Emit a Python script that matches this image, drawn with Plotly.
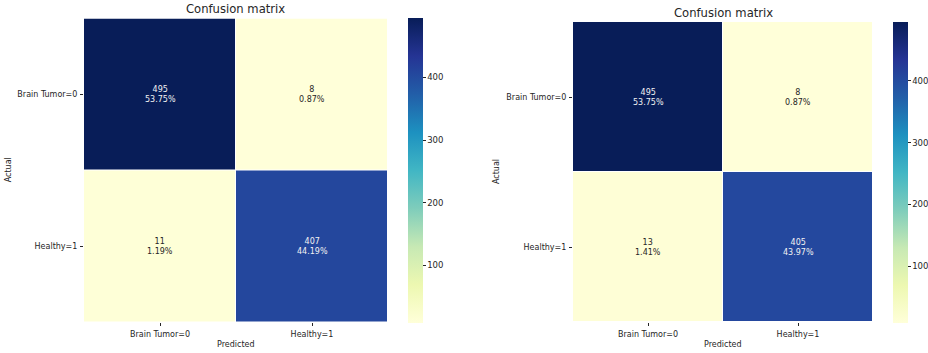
import plotly.graph_objects as go

# Confusion matrices for two classifiers (rows = actual, cols = predicted)
class_labels = ["Brain Tumor=0", "Healthy=1"]
cm_left = [[495, 8], [11, 407]]
cm_right = [[495, 8], [13, 405]]
cbar_ticks = [100, 200, 300, 400]

# matplotlib YlGnBu
ylgnbu = ["#ffffd9", "#edf8b1", "#c7e9b4", "#7fcdbb", "#41b6c4",
          "#1d91c0", "#225ea8", "#253494", "#081d58"]
colorscale = [[i / (len(ylgnbu) - 1), c] for i, c in enumerate(ylgnbu)]

W, H = 928, 353
FONT = "DejaVu Sans"
TXT = "#262626"


def px_x(v):
    return v / W


def px_y(v):
    return 1 - v / H


panels = [
    # matrix, plot left/right/top/bottom px, colorbar left px, cbar top/bottom px, title y px
    dict(cm=cm_left, x0=84, x1=388, y0=18.5, y1=322, cbx=408, cby0=18, cby1=323, ty=9.5),
    dict(cm=cm_right, x0=573, x1=873, y0=22, y1=322, cbx=893, cby0=22, cby1=323, ty=13),
]

fig = go.Figure()
annotations = []
layout_axes = {}

for i, p in enumerate(panels, start=1):
    cm = p["cm"]
    total = sum(sum(r) for r in cm)
    zmin = min(min(r) for r in cm)
    zmax = max(max(r) for r in cm)
    xa = "x" if i == 1 else f"x{i}"
    ya = "y" if i == 1 else f"y{i}"
    fig.add_trace(go.Heatmap(
        z=cm, x=[0, 1], y=[0, 1],
        colorscale=colorscale, zmin=zmin, zmax=zmax,
        xgap=1, ygap=1,
        xaxis=xa, yaxis=ya,
        hoverinfo="skip",
        colorbar=dict(
            x=px_x(p["cbx"]), xanchor="left", xref="container",
            y=px_y((p["cby0"] + p["cby1"]) / 2), yanchor="middle", yref="container",
            len=(p["cby1"] - p["cby0"]) / H, lenmode="fraction",
            thickness=15, thicknessmode="pixels",
            outlinewidth=0,
            tickvals=cbar_ticks, ticks="outside", ticklen=3, tickwidth=1,
            tickcolor=TXT,
            tickfont=dict(family=FONT, size=8.5, color=TXT),
            xpad=0, ypad=0,
        ),
    ))
    mid = (zmin + zmax) / 2
    for r in range(2):
        for c in range(2):
            v = cm[r][c]
            annotations.append(dict(
                x=c, y=r, xref=xa, yref=ya,
                text=f"{v}<br>{v / total * 100:.2f}%",
                showarrow=False,
                font=dict(family=FONT, size=8,
                          color="#f2f2f2" if v > mid else TXT),
            ))
    # titles and axis labels
    cx = (p["x0"] + p["x1"]) / 2
    annotations.append(dict(
        x=px_x(cx), y=px_y(p["ty"]), xref="paper", yref="paper",
        text="Confusion matrix", showarrow=False, xanchor="center", yanchor="middle",
        font=dict(family=FONT, size=11.6, color=TXT),
    ))
    annotations.append(dict(
        x=px_x(cx), y=px_y(344), xref="paper", yref="paper",
        text="Predicted", showarrow=False, xanchor="center", yanchor="middle",
        font=dict(family=FONT, size=8, color=TXT),
    ))
    annotations.append(dict(
        x=px_x(p["x0"] - 76), y=px_y((p["y0"] + p["y1"]) / 2), xref="paper", yref="paper",
        text="Actual", showarrow=False, textangle=-90, xanchor="center", yanchor="middle",
        font=dict(family=FONT, size=8, color=TXT),
    ))
    axis_common = dict(
        tickvals=[0, 1], ticktext=class_labels, ticks="outside", ticklen=3,
        tickwidth=1, tickcolor=TXT, showgrid=False, zeroline=False, showline=False,
        tickfont=dict(family=FONT, size=8, color=TXT), fixedrange=True,
        automargin=False,
    )
    layout_axes["xaxis" if i == 1 else f"xaxis{i}"] = dict(
        axis_common, domain=[px_x(p["x0"]), px_x(p["x1"])], range=[-0.5, 1.5],
        anchor=ya, ticklabelstandoff=1,
    )
    layout_axes["yaxis" if i == 1 else f"yaxis{i}"] = dict(
        axis_common, domain=[px_y(p["y1"]), px_y(p["y0"])], range=[1.5, -0.5],
        anchor=xa, ticklabelstandoff=1,
    )

fig.update_layout(
    width=W, height=H,
    margin=dict(l=0, r=0, t=0, b=0, autoexpand=False),
    paper_bgcolor="white", plot_bgcolor="white",
    annotations=annotations,
    showlegend=False,
    **layout_axes,
)

fig.write_html("out.html")
